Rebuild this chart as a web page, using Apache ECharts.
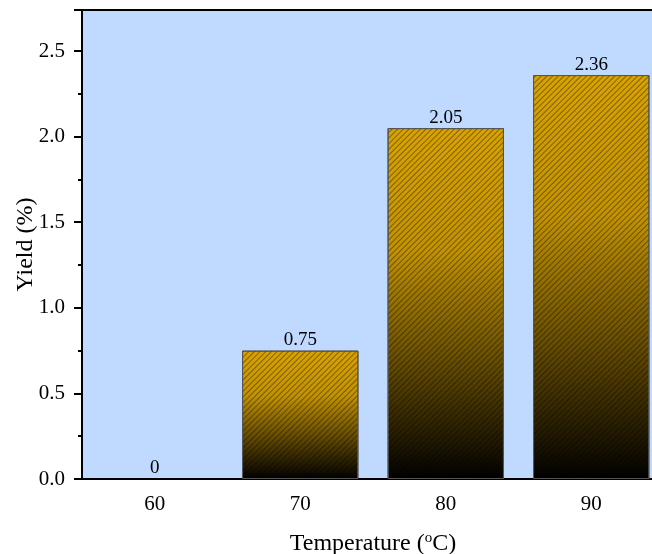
<!DOCTYPE html>
<html>
<head>
<meta charset="utf-8">
<script src="https://cdn.jsdelivr.net/npm/echarts@6/dist/echarts.min.js"></script>
<style>html,body{margin:0;padding:0;background:#fff;overflow:hidden}#c{width:664px;height:554px}</style>
</head>
<body>
<div id="c"></div>
<script>
const categories = ['60', '70', '80', '90'];
const yieldValues = [0, 0.75, 2.05, 2.36];
const yTickStep = 0.5;

const FONT = '"Liberation Serif", "Times New Roman", serif';
const chart = echarts.init(document.getElementById('c'), null, {renderer: 'canvas'});
const barData = yieldValues.map(v => v === 0 ? { value: v, itemStyle: { borderWidth: 0, opacity: 0 } } : v);
chart.setOption({
  animation: false,
  backgroundColor: '#ffffff',
  grid: {
    left: 82, top: 10, bottom: 75, right: 0,
    outerBoundsMode: 'none',
    containLabel: false,
    show: true, backgroundColor: '#c0d9ff', borderColor: '#000', borderWidth: 2
  },
  xAxis: {
    type: 'category',
    data: categories,
    name: 'Temperature ({sup|o}C)',
    nameLocation: 'middle',
    nameGap: 52,
    nameMoveOverlap: false,
    nameTextStyle: {
      fontFamily: FONT, fontSize: 24, color: '#000',
      rich: { sup: { fontFamily: FONT, fontSize: 15, color: '#000', padding: [0, 0, 10, 0] } }
    },
    axisLine: { lineStyle: { color: '#000', width: 2 } },
    axisTick: { alignWithLabel: true, length: 8, lineStyle: { color: '#000', width: 2 } },
    axisLabel: { fontFamily: FONT, fontSize: 21, color: '#000', margin: 15 },
    splitLine: { show: false }
  },
  yAxis: {
    type: 'value',
    min: 0, max: 2.74, interval: yTickStep,
    name: 'Yield (%)',
    nameLocation: 'middle',
    nameGap: 44,
    nameMoveOverlap: false,
    nameTextStyle: { fontFamily: FONT, fontSize: 24, color: '#000' },
    axisLine: { show: true, lineStyle: { color: '#000', width: 2 } },
    axisTick: { show: true, length: 8, lineStyle: { color: '#000', width: 2 } },
    minorTick: { show: true, splitNumber: 2, length: 4, lineStyle: { color: '#000', width: 2 } },
    axisLabel: { fontFamily: FONT, fontSize: 21, color: '#000', margin: 17, showMaxLabel: false,
      formatter: v => v.toFixed(1) },
    splitLine: { show: false }
  },
  series: [{
    type: 'bar',
    data: barData,
    barCategoryGap: '20%',
    itemStyle: {
      color: new echarts.graphic.LinearGradient(0, 0, 0, 1, [
        { offset: 0, color: '#d9a300' },
        { offset: 0.35, color: '#c29200' },
        { offset: 0.7, color: '#5c4500' },
        { offset: 1, color: '#000000' }
      ]),
      borderColor: '#555',
      borderWidth: 1,
      decal: {
        symbol: 'rect',
        symbolSize: 1,
        dashArrayX: [1, 0],
        dashArrayY: [1, 2.6],
        rotation: -Math.PI / 4,
        color: 'rgba(0,0,0,0.4)'
      }
    },
    label: {
      show: true, position: 'top', distance: 1,
      fontFamily: FONT, fontSize: 19, color: '#000', opacity: 1
    }
  }]
});
</script>
</body>
</html>
